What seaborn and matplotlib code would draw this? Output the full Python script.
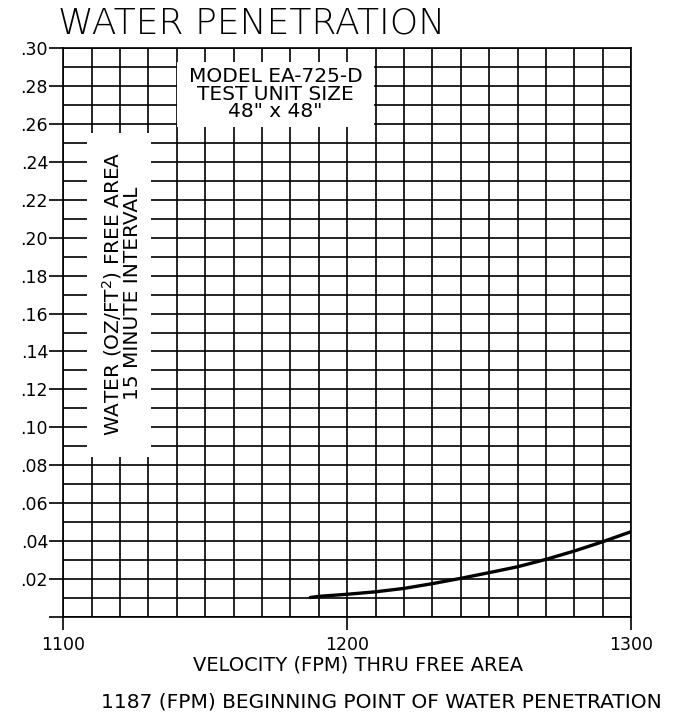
import matplotlib
matplotlib.use("Agg")
import matplotlib.pyplot as plt
import seaborn as sns
from matplotlib.patches import Rectangle

# curve
velocity = [1187, 1190, 1200, 1210, 1220, 1230, 1240, 1250, 1260, 1270, 1280, 1290, 1300]
water = [0.0103, 0.0109, 0.0120, 0.0133, 0.0151, 0.0176, 0.0204, 0.0234, 0.0265, 0.0304, 0.0348, 0.0397, 0.0450]

x_ticks = [1100, 1200, 1300]
y_ticks = [0.00, 0.02, 0.04, 0.06, 0.08, 0.10, 0.12, 0.14, 0.16, 0.18, 0.20, 0.22, 0.24, 0.26, 0.28, 0.30]
y_labels = [''] + ['.%02d' % round(v * 100) for v in y_ticks[1:]]

sns.set_style("white")
plt.rcParams['font.family'] = ['DejaVu Sans']
plt.rcParams['mathtext.default'] = 'regular'
plt.rcParams['text.color'] = 'black'

fig = plt.figure(figsize=(6.92, 7.13), dpi=100)
ax = fig.add_axes([0.0915, 0.1346, 0.8205, 0.7981])

sns.lineplot(x=velocity, y=water, color='black', linewidth=2.4, ax=ax, zorder=4)

ax.set_xlim(1100, 1300)
ax.set_ylim(0, 0.30)
ax.set_xticks(x_ticks)
ax.set_xticklabels([str(v) for v in x_ticks])
ax.set_xticks(range(1100, 1301, 10), minor=True)
ax.set_yticks(y_ticks)
ax.set_yticklabels(y_labels)
ax.set_yticks([i / 100 for i in range(31)], minor=True)

ax.set_axisbelow(True)
ax.grid(which='both', color='black', linewidth=1.2)
ax.tick_params(which='major', bottom=True, left=True, direction='out', length=10, width=1.2,
               color='black', labelcolor='black', labelsize=12.5, pad=1)
ax.tick_params(axis='x', which='major', length=9.5, pad=4)
ax.tick_params(which='minor', length=0)
for s in ax.spines.values():
    s.set_color('black')
    s.set_linewidth(1.2)
ax.set_xlabel('')
ax.set_ylabel('')

# white boxes over the grid with notes
ax.add_patch(Rectangle((1140.0, 0.2585), 69.4, 0.034, facecolor='white', edgecolor='none', zorder=2))
ax.text(1174.7, 0.2755, 'MODEL EA-725-D\nTEST UNIT SIZE\n48" x 48"', ha='center', va='center',
        fontsize=14.5, linespacing=0.9, color='black', zorder=3)

ax.add_patch(Rectangle((1108.3, 0.0845), 22.6, 0.1705, facecolor='white', edgecolor='none', zorder=2))
ax.text(1120.3, 0.1705, 'WATER (OZ/FT$^2$) FREE AREA\n15 MINUTE INTERVAL', rotation=90,
        ha='center', va='center', multialignment='center', fontsize=14.5, linespacing=0.9,
        color='black', zorder=3)

fig.text(58 / 692, 1 - 33.3 / 713, 'WATER PENETRATION', fontsize=26, ha='left', va='baseline',
         fontweight='light', color='black')
fig.text(358.5 / 692, 1 - 665 / 713, 'VELOCITY (FPM) THRU FREE AREA', fontsize=14,
         ha='center', va='center', color='black')
fig.text(381 / 692, 1 - 702 / 713, '1187 (FPM) BEGINNING POINT OF WATER PENETRATION', fontsize=14.5,
         ha='center', va='center', color='black')

fig.savefig('out.png', dpi=100, facecolor='white')
